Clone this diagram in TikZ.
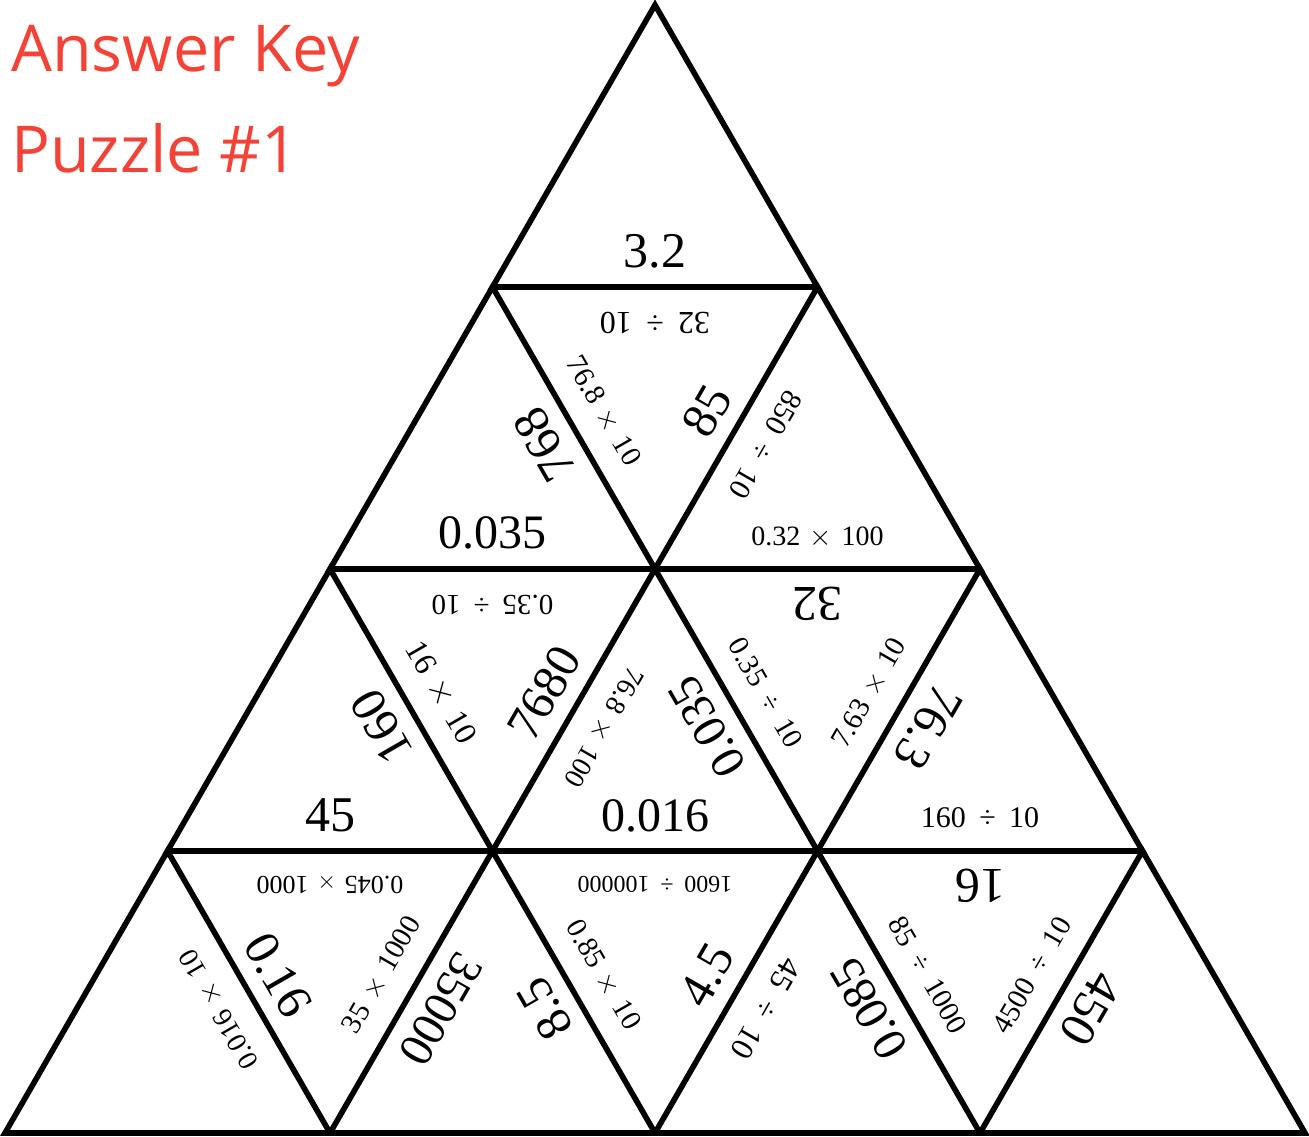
\documentclass[tikz,border=0pt]{standalone}
\usepackage{fontspec}
\setmainfont{Liberation Serif}
\newfontfamily\titlefont{Open Sans}
\usetikzlibrary{calc}
\definecolor{keyred}{RGB}{244,67,54}
\newcommand{\mulop}{\hspace{0.34em}$\times$\hspace{0.34em}}
\newcommand{\divop}{\hspace{0.45em}÷\hspace{0.45em}}

\begin{document}
\begin{tikzpicture}[x=0.5pt,y=0.5pt,
  edge/.style={line width=2.8pt},
  big/.style={font=\fontsize{#1}{#1}\selectfont,inner sep=0pt},
  big/.default=25,
  small/.style={font=\fontsize{#1}{#1}\selectfont,inner sep=0pt},
  small/.default=14.5,
  title/.style={font=\titlefont\fontsize{32.3}{32.3}\selectfont,text=keyred,inner sep=0pt,anchor=base west}]
  \useasboundingbox (0,0) rectangle (1309,1136);
  % corners of the small triangles
  \foreach \r in {0,...,4}
    \foreach \i in {0,...,\r}
      \coordinate (v\r\i) at ({655+(2*\i-\r)*162.5},{1131-282*\r});
  \foreach \r in {0,...,3}
    \foreach \i in {0,...,\r}{
      \pgfmathtruncatemacro\s{\r+1}
      \pgfmathtruncatemacro\j{\i+1}
      \draw[edge] (v\r\i) -- (v\s\i) -- (v\s\j) -- cycle;
    }
  \node[title] (key) at (11,1064) {Answer Key};
  \node[title] (puz) at (11,963) {Puzzle \#1};
  % row 1
  \node[big] (l1) at ($(v10)!0.5!(v11)+(90:36)$) {3.2};
  \node[small=16,rotate=180] (l2) at ($(v10)!0.5!(v11)+(-90:36)$) {32\divop 10};
  \node[big,rotate=120] (l3) at ($(v10)!0.5!(v21)+(210:34)$) {768};
  \node[small,rotate=-60] (l4) at ($(v10)!0.5!(v21)+(30:34)$) {76.8\mulop 10};
  \node[big,rotate=60] (l5) at ($(v11)!0.5!(v21)+(150:34)$) {85};
  \node[small=15,rotate=-120] (l6) at ($(v11)!0.5!(v21)+(-30:34)$) {850\divop 10};
  % row 2
  \node[big=24] (l7) at ($(v20)!0.5!(v21)+(90:36)$) {0.035};
  \node[small,rotate=180] (l8) at ($(v20)!0.5!(v21)+(-90:36)$) {0.35\divop 10};
  \node[small=14] (l9) at ($(v21)!0.5!(v22)+(90:32)$) {0.32\mulop 100};
  \node[big,rotate=180] (l10) at ($(v21)!0.5!(v22)+(-90:35)$) {32};
  \node[big,rotate=120] (l11) at ($(v20)!0.5!(v31)+(210:34)$) {160};
  \node[small=16,rotate=-60] (l12) at ($(v20)!0.5!(v31)+(30:34)$) {16\mulop 10};
  \node[big=24.5,rotate=60] (l13) at ($(v21)!0.5!(v31)+(150:34)$) {7680};
  \node[small=14,rotate=-120] (l14) at ($(v21)!0.5!(v31)+(-30:34)$) {76.8\mulop 100};
  \node[big=24,rotate=120] (l15) at ($(v21)!0.5!(v32)+(210:34)$) {0.035};
  \node[small,rotate=-60] (l16) at ($(v21)!0.5!(v32)+(30:34)$) {0.35\divop 10};
  \node[small,rotate=60] (l17) at ($(v22)!0.5!(v32)+(150:34)$) {7.63\mulop 10};
  \node[big,rotate=-120] (l18) at ($(v22)!0.5!(v32)+(-30:34)$) {76.3};
  % row 3
  \node[big] (l19) at ($(v30)!0.5!(v31)+(90:36)$) {45};
  \node[small=13,rotate=180] (l20) at ($(v30)!0.5!(v31)+(-90:33)$) {0.045\mulop 1000};
  \node[big=24] (l21) at ($(v31)!0.5!(v32)+(90:35)$) {0.016};
  \node[small=12,rotate=180] (l22) at ($(v31)!0.5!(v32)+(-90:33)$) {1600\divop 100000};
  \node[small=15] (l23) at ($(v32)!0.5!(v33)+(90:33)$) {160\divop 10};
  \node[big,rotate=180] (l24) at ($(v32)!0.5!(v33)+(-90:35)$) {16};
  \node[small=14,rotate=120] (l25) at ($(v30)!0.5!(v41)+(210:34)$) {0.016\mulop 10};
  \node[big,rotate=-60] (l26) at ($(v30)!0.5!(v41)+(30:34)$) {0.16};
  \node[small,rotate=60] (l27) at ($(v31)!0.5!(v41)+(150:34)$) {35\mulop 1000};
  \node[big=24,rotate=-120] (l28) at ($(v31)!0.5!(v41)+(-30:34)$) {35000};
  \node[big,rotate=120] (l29) at ($(v31)!0.5!(v42)+(210:34)$) {8.5};
  \node[small,rotate=-60] (l30) at ($(v31)!0.5!(v42)+(30:34)$) {0.85\mulop 10};
  \node[big,rotate=60] (l31) at ($(v32)!0.5!(v42)+(150:34)$) {4.5};
  \node[small=16,rotate=-120] (l32) at ($(v32)!0.5!(v42)+(-30:34)$) {45\divop 10};
  \node[big=24,rotate=120] (l33) at ($(v32)!0.5!(v43)+(210:34)$) {0.085};
  \node[small,rotate=-60] (l34) at ($(v32)!0.5!(v43)+(30:34)$) {85\divop 1000};
  \node[small,rotate=60] (l35) at ($(v33)!0.5!(v43)+(150:34)$) {4500\divop 10};
  \node[big,rotate=-120] (l36) at ($(v33)!0.5!(v43)+(-30:34)$) {450};
\end{tikzpicture}
\end{document}
